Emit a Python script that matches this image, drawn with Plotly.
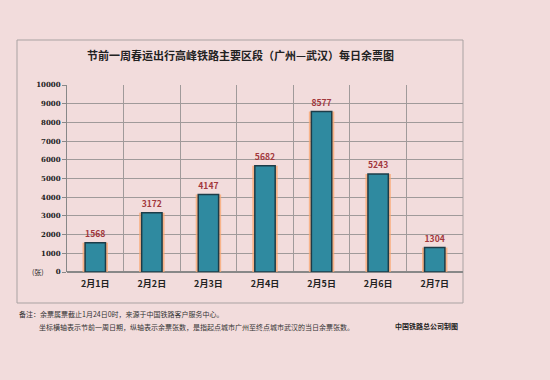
import plotly.graph_objects as go

categories = ["2月1日", "2月2日", "2月3日", "2月4日", "2月5日", "2月6日", "2月7日"]
values = [1568, 3172, 4147, 5682, 8577, 5243, 1304]
y_ticks = list(range(0, 10001, 1000))

title = "节前一周春运出行高峰铁路主要区段（广州—武汉）每日余票图"
note1 = "备注：余票属票截止1月24日0时，来源于中国铁路客户服务中心。"
note2 = "坐标横轴表示节前一周日期，纵轴表示余票张数，是指起点城市广州至终点城市武汉的当日余票张数。"
credit = "中国铁路总公司制图"

CJK = "Noto Sans CJK SC"
bg = "#f2dcdc"

# page body has an 8px default margin; figure coordinates = window coordinates - 8
W, H = 534, 364
L, R, T, B = 59, 79, 77, 100
PW, PH = W - L - R, H - T - B


def px(xw):
    return (xw - 8 - L) / PW


def py(yw):
    return (H - B - (yw - 8)) / PH


fig = go.Figure()
# orange glow
fig.add_trace(go.Bar(x=categories, y=values, width=0.45,
                     marker=dict(color="rgba(250,165,110,0.75)", line=dict(width=0)),
                     hoverinfo="skip", showlegend=False))
# main bars
fig.add_trace(go.Bar(x=categories, y=values, width=0.36,
                     marker=dict(color="#2f8aa0", line=dict(color="#1d3c48", width=1.5)),
                     text=[str(v) for v in values], textposition="outside",
                     textfont=dict(family=CJK, size=10, color="#a2383c", weight="bold"),
                     cliponaxis=False, showlegend=False))

fig.update_layout(
    width=W, height=H,
    margin=dict(l=L, r=R, t=T, b=B),
    paper_bgcolor=bg, plot_bgcolor=bg,
    barmode="overlay",
    font=dict(family=CJK, color="#222"),
    showlegend=False,
)
fig.update_xaxes(type="category", tickson="boundaries", showgrid=True, gridcolor="#a09a9a",
                 gridwidth=1, ticks="", showline=False, ticklabelstandoff=5,
                 tickfont=dict(family=CJK, size=9, color="#222", weight="bold"))
fig.update_yaxes(range=[0, 10000], tickvals=y_ticks, ticktext=[str(v) for v in y_ticks],
                 showgrid=True, gridcolor="#a09a9a", gridwidth=1,
                 showline=True, linecolor="#888", ticks="outside", ticklen=4, tickcolor="#888",
                 tickfont=dict(family="DejaVu Serif", size=7, color="#222", weight="bold"),
                 zeroline=True, zerolinecolor="#888")

# outer box
fig.add_shape(type="rect", xref="paper", yref="paper",
              x0=px(17), x1=px(463), y0=py(303), y1=py(40),
              line=dict(color="#a9a2a2", width=1), fillcolor="rgba(0,0,0,0)", layer="below")

fig.add_annotation(text=title, xref="paper", yref="paper", x=px(240), y=py(55),
                   showarrow=False, font=dict(family=CJK, size=11, color="#222", weight="bold"),
                   xanchor="center", yanchor="middle")
fig.add_annotation(text="(张)", xref="paper", yref="paper", x=px(38), y=py(272),
                   showarrow=False, font=dict(family=CJK, size=7, color="#222"),
                   xanchor="center", yanchor="middle")
fig.add_annotation(text=note1, xref="paper", yref="paper", x=px(17), y=py(314),
                   showarrow=False, font=dict(family=CJK, size=7, color="#333"),
                   xanchor="left", yanchor="middle")
fig.add_annotation(text=note2, xref="paper", yref="paper", x=px(37), y=py(327),
                   showarrow=False, font=dict(family=CJK, size=7, color="#333"),
                   xanchor="left", yanchor="middle")
fig.add_annotation(text=credit, xref="paper", yref="paper", x=px(460), y=py(326),
                   showarrow=False, font=dict(family=CJK, size=7, color="#222", weight="bold"),
                   xanchor="right", yanchor="middle")

fig.write_html(
    "out.html",
    post_script="document.body.style.background='%s';document.documentElement.style.background='%s';" % (bg, bg),
)
